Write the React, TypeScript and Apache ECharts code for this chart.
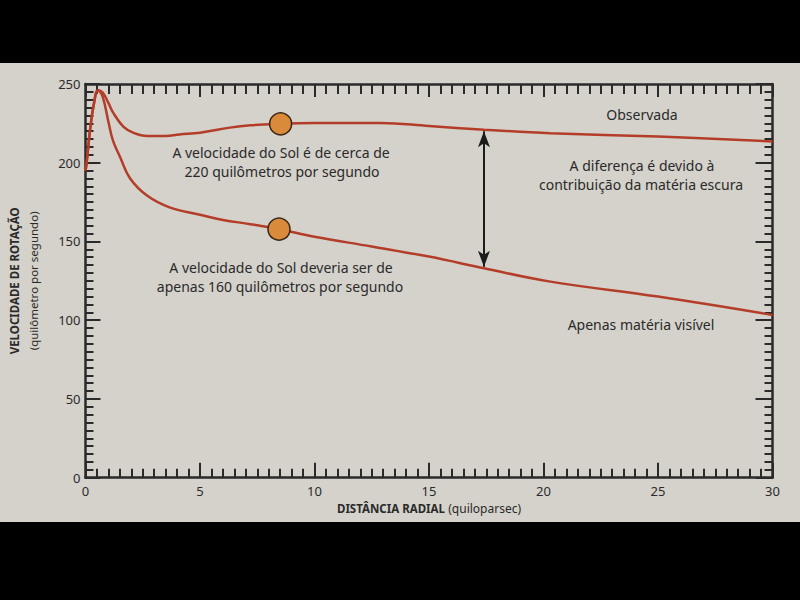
import React, { useEffect, useRef } from "react";
import * as echarts from "echarts";

// Distance (kpc) and rotation velocity (km/s) - observed curve
const distObs = [0, 0.05, 0.2, 0.35, 0.55, 0.75, 1.0, 1.2, 1.65, 2.1, 2.7, 3.5, 4.1, 5, 6.3, 7.2, 8.5, 10, 12.9, 15, 17.4, 20.3, 25, 30];
const velObs = [195, 200, 221, 236, 246, 244.5, 238, 232, 223, 219, 217, 217, 218, 219, 222.3, 223.8, 224.7, 225.2, 225.3, 223.3, 221, 218.8, 216.6, 213.5];

// Visible matter only
const distVis = [0, 0.05, 0.2, 0.35, 0.55, 0.75, 1.0, 1.2, 1.5, 1.95, 2.7, 3.7, 5, 6, 7.2, 8.45, 10, 12.5, 15, 17.4, 20.3, 25, 30];
const velVis = [195, 200, 221, 236, 246, 242, 226, 214, 204, 190, 179, 171.5, 167, 163.7, 161, 157.8, 153, 146.8, 140.4, 133, 124.5, 115, 103.3];

// Sun positions
const sunDist = [8.52, 8.45];
const sunVel = [224.7, 157.8];

// Difference arrow
const arrowDist = 17.4;
const arrowTop = 220;
const arrowBottom = 134;

const xTicks = [0, 5, 10, 15, 20, 25, 30];
const yTicks = [0, 50, 100, 150, 200, 250];

const FONT = "'Noto Sans', sans-serif";
const INK = "#2a2a2a";
const CURVE = "#b43d2a";

export default function App() {
  const ref = useRef<HTMLDivElement>(null);
  useEffect(() => {
    if (!ref.current) return;
    const chart = echarts.init(ref.current, undefined, { renderer: "svg" });
    const tickStyle = { color: INK, width: 2 };
    const mk = (pos: string, majorLen: number, minorLen: number, split: number, showLabel: boolean, isX: boolean) => ({
      type: "value",
      position: pos,
      min: 0,
      max: isX ? 30 : 250,
      interval: isX ? 5 : 50,
      axisLine: { show: true, onZero: false, lineStyle: { color: INK, width: 2.5 } },
      axisTick: { show: true, inside: true, length: majorLen, lineStyle: tickStyle },
      minorTick: { show: true, splitNumber: split, length: minorLen, lineStyle: tickStyle },
      splitLine: { show: false },
      axisLabel: {
        show: showLabel,
        color: INK,
        fontFamily: FONT,
        fontSize: 13,
        margin: isX ? 7 : 5,
        formatter: (v: number) => {
          const list = isX ? xTicks : yTicks;
          return list.indexOf(v) >= 0 ? String(v) : "";
        },
      },
    });
    const xBottom: any = mk("bottom", 15, 9, 10, true, true);
    xBottom.name = "{a|DISTÂNCIA RADIAL} {b|(quiloparsec)}";
    xBottom.nameLocation = "middle";
    xBottom.nameGap = 24;
    xBottom.nameTextStyle = {
      rich: {
        a: { fontFamily: FONT, fontSize: 11.5, fontWeight: "bold", color: INK },
        b: { fontFamily: FONT, fontSize: 12, color: INK },
      },
    };
    const xTop: any = mk("top", 13, 10, 10, false, true);
    const yLeft: any = mk("left", 15, 8, 10, true, false);
    yLeft.name = "{a|VELOCIDADE DE ROTAÇÃO}\n{b|(quilômetro por segundo)}";
    yLeft.nameLocation = "middle";
    yLeft.nameRotate = 90;
    yLeft.nameGap = 43;
    yLeft.nameTextStyle = {
      rich: {
        a: { fontFamily: FONT, fontSize: 11.5, fontWeight: "bold", color: INK, lineHeight: 19 },
        b: { fontFamily: FONT, fontSize: 11.5, color: INK, lineHeight: 19 },
      },
    };
    const yRight: any = mk("right", 17, 8, 10, false, false);

    const txt = (text: string, x: number, y: number) => ({
      type: "text",
      x,
      y,
      style: { text, fill: INK, font: `14px ${FONT}`, align: "center", verticalAlign: "middle" },
      z: 10,
    });

    chart.setOption({
      animation: false,
      backgroundColor: "transparent",
      grid: { left: 85.5, right: 27.5, top: 84, bottom: 122.3, containLabel: false },
      xAxis: [xBottom, xTop],
      yAxis: [yLeft, yRight],
      series: [
        {
          type: "line",
          name: "Observada",
          data: distObs.map((d, i) => [d, velObs[i]]),
          smooth: 0.4,
          showSymbol: false,
          lineStyle: { color: CURVE, width: 2.5 },
          z: 3,
          markLine: {
            silent: true,
            symbol: ["arrow", "arrow"],
            symbolSize: [9, 16],
            label: { show: false },
            lineStyle: { color: "#1c1c1c", width: 2, type: "solid" },
            data: [[{ coord: [arrowDist, arrowTop] }, { coord: [arrowDist, arrowBottom] }]],
          },
        },
        {
          type: "line",
          name: "Apenas matéria visível",
          data: distVis.map((d, i) => [d, velVis[i]]),
          smooth: 0.4,
          showSymbol: false,
          lineStyle: { color: CURVE, width: 2.5 },
          z: 3,
        },
        {
          type: "scatter",
          data: sunDist.map((d, i) => [d, sunVel[i]]),
          symbolSize: 22,
          itemStyle: { color: "#d98a3a", borderColor: "#3a2616", borderWidth: 1.5, opacity: 1 },
          z: 5,
        },
      ],
      graphic: [
        txt("Observada", 642, 114),
        txt("A diferença é devido à", 642, 165),
        txt("contribuição da matéria escura", 641, 184.5),
        txt("Apenas matéria visível", 641, 324),
        txt("A velocidade do Sol é de cerca de", 281, 152),
        txt("220 quilômetros por segundo", 282, 171.5),
        txt("A velocidade do Sol deveria ser de", 281, 267),
        txt("apenas 160 quilômetros por segundo", 280, 286.5),
      ],
    });
    return () => chart.dispose();
  }, []);
  return (
    <div
      style={{
        position: "absolute",
        left: 0,
        top: 0,
        width: 800,
        height: 600,
        background: "linear-gradient(to bottom, #000 0px, #000 63px, #d5d2cb 63px, #d5d2cb 522px, #000 522px, #000 600px)",
      }}
    >
      <div ref={ref} style={{ width: 800, height: 600 }} />
    </div>
  );
}
